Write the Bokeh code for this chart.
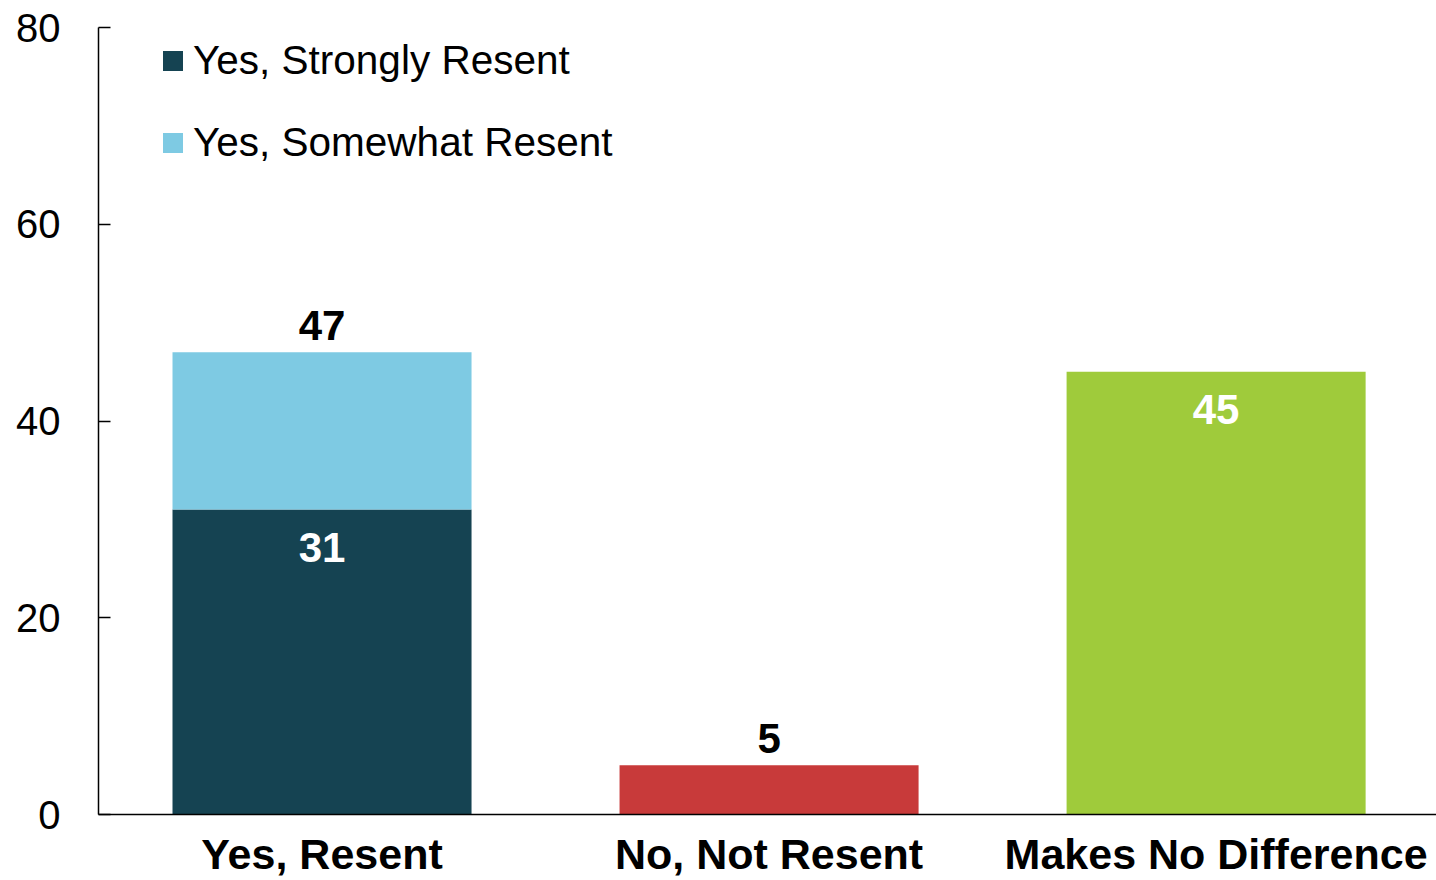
from bokeh.plotting import figure
from bokeh.models import (ColumnDataSource, Range1d, FixedTicker, LabelSet,
                          Legend, LegendItem)
from bokeh.core.properties import value
from bokeh.embed import file_html
from bokeh.resources import INLINE

# ---- data ----
categories = ["Yes, Resent", "No, Not Resent", "Makes No Difference"]
strongly_resent = [31, 0, 0]
somewhat_resent = [16, 0, 0]
other_values = [0, 5, 45]
totals = [s + w + o for s, w, o in zip(strongly_resent, somewhat_resent, other_values)]
y_ticks = [0, 20, 40, 60, 80]

# ---- styles ----
C_STRONG = "#154352"
C_SOME = "#7ECAE3"
C_OTHER = ["#FFFFFF", "#C83A3A", "#9FCB3B"]
FONT = "Liberation Sans"

xpos = [i + 0.5 for i in range(len(categories))]

p = figure(width=1436, height=880, output_backend="svg", toolbar_location=None,
           x_range=Range1d(0, 2.993), y_range=Range1d(0, 80),
           min_border_left=98, min_border_right=0, min_border_top=27,
           min_border_bottom=66)
p.outline_line_color = None
p.grid.visible = False
p.background_fill_color = "white"
p.border_fill_color = "white"

src = ColumnDataSource(dict(x=xpos, strong=strongly_resent, some=somewhat_resent,
                            other=other_values, color=C_OTHER, total=totals,
                            cat=categories))
BW = 299 / 447
r_stack = p.vbar_stack(["strong", "some"], x="x", width=BW, source=src,
                       color=[C_STRONG, C_SOME], line_color=None)
p.vbar(x="x", top="other", bottom=0, width=BW, source=src, fill_color="color",
       line_color=None)

# labels
out_src = ColumnDataSource(dict(x=[xpos[0], xpos[1]],
                                y=[totals[0], totals[1]],
                                t=[str(totals[0]), str(totals[1])]))
in_src = ColumnDataSource(dict(x=[xpos[0], xpos[2]],
                               y=[strongly_resent[0], totals[2]],
                               t=[str(strongly_resent[0]), str(totals[2])]))
p.add_layout(LabelSet(x="x", y="y", text="t", source=out_src, text_align="center",
                      text_baseline="alphabetic", y_offset=12,
                      text_font=value(FONT), text_font_size=value("42px"),
                      text_font_style=value("bold"), text_color="black"))
p.add_layout(LabelSet(x="x", y="y", text="t", source=in_src, text_align="center",
                      text_baseline="alphabetic", y_offset=-52,
                      text_font=value(FONT), text_font_size=value("42px"),
                      text_font_style=value("bold"), text_color="white"))

# axes
p.yaxis.ticker = FixedTicker(ticks=y_ticks)
p.yaxis.minor_tick_line_color = None
p.yaxis.major_tick_in = 12
p.yaxis.major_tick_out = 0
p.yaxis.major_tick_line_width = 1.5
p.yaxis.major_tick_line_color = "black"
p.yaxis.axis_line_width = 1.5
p.yaxis.axis_line_color = "black"
p.yaxis.major_label_standoff = 38
p.yaxis.major_label_text_font = FONT
p.yaxis.major_label_text_font_size = "40px"
p.yaxis.major_label_text_color = "black"

p.xaxis.ticker = FixedTicker(ticks=xpos)
p.xaxis.major_label_overrides = {x: c for x, c in zip(xpos, categories)}
p.xaxis.minor_tick_line_color = None
p.xaxis.major_tick_line_color = None
p.xaxis.major_tick_in = 0
p.xaxis.major_tick_out = 0
p.xaxis.axis_line_width = 1.5
p.xaxis.axis_line_color = "black"
p.xaxis.major_label_standoff = 15
p.xaxis.major_label_text_font = FONT
p.xaxis.major_label_text_font_size = "43px"
p.xaxis.major_label_text_font_style = "bold"
p.xaxis.major_label_text_color = "black"

legend = Legend(items=[LegendItem(label="Yes, Strongly Resent", renderers=[r_stack[0]]),
                       LegendItem(label="Yes, Somewhat Resent", renderers=[r_stack[1]])],
                location=(62, 648), orientation="vertical",
                glyph_width=25, glyph_height=25, label_standoff=8,
                label_height=46, spacing=35, padding=0, margin=0,
                border_line_color=None, background_fill_alpha=0,
                label_text_font=FONT, label_text_font_size="40.5px",
                label_text_color="black")
p.add_layout(legend)

open("out.html", "w").write(file_html(p, INLINE))
